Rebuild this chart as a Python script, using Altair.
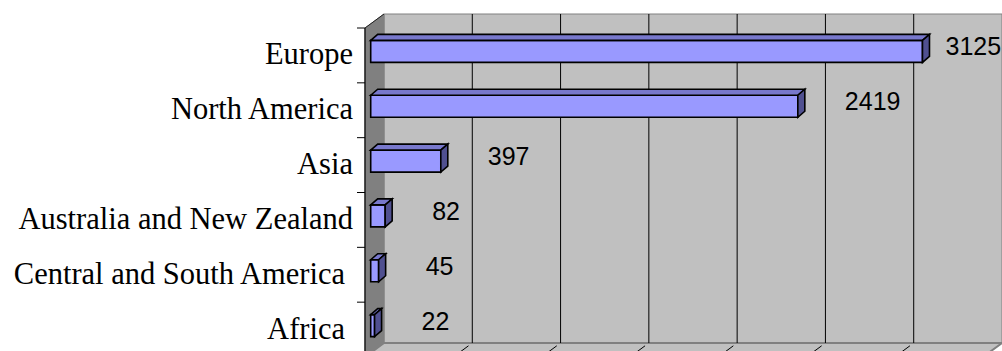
import altair as alt
import pandas as pd

# ---- data ----
categories = ["Europe", "North America", "Asia", "Australia and New Zealand",
              "Central and South America ", "Africa "]
values = [3125, 2419, 397, 82, 45, 22]
x_ticks = [0, 500, 1000, 1500, 2000, 2500, 3000, 3500]

X_MAX = 3500
N = len(categories)

# scale set-up (pixel ranges of the front plane)
X_RANGE = [365, 983]
Y_RANGE = [357, 28]
UX = X_MAX / (X_RANGE[1] - X_RANGE[0])      # data units per px
UY = N / (Y_RANGE[0] - Y_RANGE[1])          # row units per px

# 3-D look (depth offsets, in px converted to scale units)
WALL_DX, WALL_DY = 19 * UX, 14 * UY
BAR_X0 = 5.7 * UX
BAR_DX, BAR_DY = 7 * UX, 6 * UY
BAR_HALF = 11 * UY
BAR_SHIFT = 4 * UY

xs = alt.Scale(domain=[0, X_MAX], range=X_RANGE, nice=False, zero=False)
ys = alt.Scale(domain=[0, N], range=Y_RANGE, nice=False, zero=False)

polys = []


def add_poly(pid, kind, pts):
    for k, (x, y) in enumerate(pts):
        polys.append(dict(pid=pid, kind=kind, o=k, x=x, y=y))


# walls and floor
add_poly("lw", "leftwall", [(0, 0), (0, N), (WALL_DX, N + WALL_DY), (WALL_DX, WALL_DY)])
add_poly("bw", "backwall", [(WALL_DX, WALL_DY), (WALL_DX, N + WALL_DY),
                            (X_MAX + WALL_DX, N + WALL_DY), (X_MAX + WALL_DX, WALL_DY)])
add_poly("fl", "floor", [(0, 0), (WALL_DX, WALL_DY), (X_MAX + WALL_DX, WALL_DY), (X_MAX, 0)])

# bars
for i, v in enumerate(values):
    rc = N - i - 0.5 + BAR_SHIFT
    yb, yt = rc - BAR_HALF, rc + BAR_HALF
    x0, x1 = BAR_X0, BAR_X0 + v
    add_poly(f"f{i}", "front", [(x0, yb), (x0, yt), (x1, yt), (x1, yb)])
    add_poly(f"t{i}", "top", [(x0, yt), (x0 + BAR_DX, yt + BAR_DY),
                              (x1 + BAR_DX, yt + BAR_DY), (x1, yt)])
    add_poly(f"s{i}", "side", [(x1, yb), (x1, yt), (x1 + BAR_DX, yt + BAR_DY),
                               (x1 + BAR_DX, yb + BAR_DY)])

poly_df = pd.DataFrame(polys)


def poly_layer(kind, fill, stroke, sw):
    return alt.Chart(poly_df).transform_filter(alt.datum.kind == kind).mark_line(
        interpolate="linear-closed", fill=fill, stroke=stroke, strokeWidth=sw,
        strokeJoin="miter"
    ).encode(
        x=alt.X("x:Q", scale=xs, axis=None),
        y=alt.Y("y:Q", scale=ys, axis=None),
        detail="pid:N",
        order="o:Q",
    )


grid_df = pd.DataFrame({"t": x_ticks[1:-1]})
grid_df["xb"] = grid_df["t"] + WALL_DX
grid_df["y0"] = WALL_DY
grid_df["y1"] = N + WALL_DY
grid_df["xf0"] = grid_df["t"] + WALL_DX * 0.8
grid_df["yf0"] = WALL_DY * 0.8
grid_df["yf1"] = 0.0

grid = alt.Chart(grid_df).mark_rule(color="black", strokeWidth=1).encode(
    x=alt.X("xb:Q", scale=xs, axis=None),
    y=alt.Y("y0:Q", scale=ys, axis=None),
    y2="y1:Q",
)
floor_ticks = alt.Chart(grid_df).mark_rule(color="black", strokeWidth=1).encode(
    x=alt.X("xf0:Q", scale=xs, axis=None),
    x2="t:Q",
    y=alt.Y("yf0:Q", scale=ys, axis=None),
    y2="yf1:Q",
)

# category axis (front plane)
axis_df = pd.DataFrame({"b": list(range(N + 1))})
axis_line = alt.Chart(pd.DataFrame({"x": [0], "y0": [-0.2], "y1": [N]})).mark_rule(
    color="black", strokeWidth=1.2).encode(
    x=alt.X("x:Q", scale=xs, axis=None),
    y=alt.Y("y0:Q", scale=ys, axis=None),
    y2="y1:Q",
)
top_edge = alt.Chart(pd.DataFrame({"x": [0], "y": [N], "x2": [WALL_DX],
                                   "y2": [N + WALL_DY]})).mark_rule(
    color="#202020", strokeWidth=1).encode(
    x=alt.X("x:Q", scale=xs, axis=None),
    x2="x2:Q",
    y=alt.Y("y:Q", scale=ys, axis=None),
    y2="y2:Q",
)
axis_ticks = alt.Chart(axis_df).mark_rule(color="black", strokeWidth=1).encode(
    x=alt.value(357), x2=alt.value(365),
    y=alt.Y("b:Q", scale=ys, axis=None),
)

lab_df = pd.DataFrame({
    "cat": categories,
    "value": values,
    "row": [N - i - 0.5 for i in range(N)],
})
lab_df["xend"] = lab_df["value"] + BAR_X0


def cat_labels(cond, dx):
    # names that end with a blank keep the blank's width, as in the reference
    return alt.Chart(lab_df).transform_filter(cond).mark_text(
        align="right", baseline="alphabetic", dy=9, dx=dx, font="Liberation Serif",
        fontSize=30.5, color="black"
    ).encode(
        x=alt.value(353),
        y=alt.Y("row:Q", scale=ys, axis=None),
        text="cat:N",
    )


def value_labels(cond, dx):
    return alt.Chart(lab_df).transform_filter(cond).mark_text(
        align="left", baseline="alphabetic", dx=dx, font="Liberation Sans",
        fontSize=25, color="black"
    ).encode(
        x=alt.X("xend:Q", scale=xs, axis=None),
        y=alt.Y("row:Q", scale=ys, axis=None),
        text=alt.Text("value:Q", format="d"),
    )


ends_blank = "slice(datum.cat, -1) == ' '"

chart = alt.layer(
    poly_layer("backwall", "#C0C0C0", "#808080", 1),
    poly_layer("leftwall", "#808080", "#808080", 1),
    poly_layer("floor", "#C0C0C0", "#808080", 2),
    grid,
    floor_ticks,
    axis_line,
    top_edge,
    axis_ticks,
    poly_layer("front", "#9999FF", "black", 1.6),
    poly_layer("top", "#7878CC", "black", 1.6),
    poly_layer("side", "#505090", "black", 1.6),
    cat_labels("!(" + ends_blank + ")", 0),
    cat_labels(ends_blank, -8),
    value_labels(alt.datum.value < 3000, 47),
    value_labels(alt.datum.value >= 3000, 23),
).properties(
    width=1002, height=351,
    autosize=alt.AutoSizeParams(type="none"),
    padding=0,
    background="white",
).configure_view(stroke=None)

chart.save("out.html", embed_options={"renderer": "svg", "actions": False})
